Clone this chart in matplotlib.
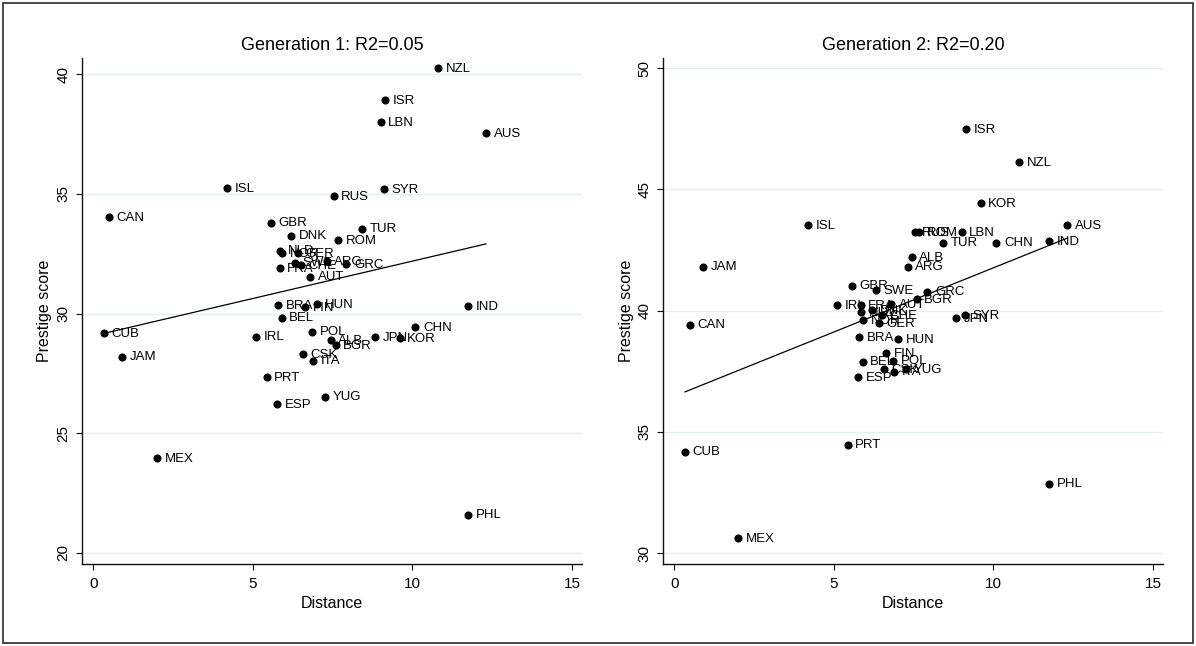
import matplotlib
matplotlib.use('Agg')
import matplotlib.pyplot as plt
import numpy as np
from matplotlib.patches import Rectangle

plt.rcParams['font.family'] = ['Liberation Sans', 'DejaVu Sans']

countries = ["NZL", "ISR", "LBN", "AUS", "ISL", "RUS", "SYR", "CAN", "GBR", "DNK",
             "TUR", "ROM", "NLD", "NOR", "GER", "SWE", "CHE", "ARG", "GRC", "FRA",
             "AUT", "BRA", "HUN", "FIN", "BEL", "IND", "CUB", "POL", "CHN", "IRL",
             "ALB", "JPN", "KOR", "JAM", "CSK", "BGR", "ITA", "PRT", "YUG", "ESP",
             "MEX", "PHL"]

distance = [10.81, 9.13, 9.00, 12.30, 4.20, 7.53, 9.10, 0.50, 5.56, 6.20,
            8.42, 7.66, 5.86, 5.92, 6.41, 6.32, 6.50, 7.31, 7.93, 5.84,
            6.80, 5.80, 7.01, 6.63, 5.90, 11.75, 0.34, 6.86, 10.09, 5.11,
            7.44, 8.82, 9.60, 0.91, 6.57, 7.59, 6.89, 5.43, 7.26, 5.77,
            2.01, 11.75]

prestige_gen1 = [40.25, 38.91, 38.00, 37.54, 35.24, 34.91, 35.20, 34.03, 33.79, 33.25,
                 33.54, 33.07, 32.62, 32.51, 32.51, 32.12, 32.03, 32.20, 32.05, 31.89,
                 31.54, 30.36, 30.40, 30.26, 29.83, 30.30, 29.19, 29.24, 29.42, 29.03,
                 28.89, 29.00, 28.96, 28.20, 28.31, 28.68, 28.03, 27.33, 26.53, 26.22,
                 23.97, 21.60]

prestige_gen2 = [46.13, 47.49, 43.25, 43.54, 43.54, 43.25, 39.82, 39.42, 41.03, 40.03,
                 42.80, 43.25, 39.93, 39.62, 39.48, 40.85, 39.82, 41.81, 40.78, 40.24,
                 40.26, 38.90, 38.82, 38.24, 37.90, 42.87, 34.18, 37.94, 42.80, 40.24,
                 42.22, 39.69, 44.44, 41.81, 37.58, 40.47, 37.48, 34.47, 37.59, 37.25,
                 30.63, 32.86]

titles = ["Generation 1: R2=0.05", "Generation 2: R2=0.20"]
xticks = [0, 5, 10, 15]
yticks_gen1 = [20, 25, 30, 35, 40]
yticks_gen2 = [30, 35, 40, 45, 50]
xlabel = "Distance"
ylabel = "Prestige score"

W, H = 1196, 646
fig = plt.figure(figsize=(W / 100, H / 100), dpi=100)

panels = [
    dict(left=82, yvals=prestige_gen1, yticks=yticks_gen1, ylim=(19.54, 40.67), title=titles[0]),
    dict(left=663, yvals=prestige_gen2, yticks=yticks_gen2, ylim=(29.55, 50.42), title=titles[1]),
]
top_px, bottom_px, width_px = 58, 564, 500

x = np.array(distance)
for p in panels:
    ax = fig.add_axes([p['left'] / W, 1 - bottom_px / H, width_px / W, (bottom_px - top_px) / H])
    y = np.array(p['yvals'])
    ax.set_xlim(-0.35, 15.31)
    ax.set_ylim(*p['ylim'])
    for s in ['top', 'right']:
        ax.spines[s].set_visible(False)
    for s in ['left', 'bottom']:
        ax.spines[s].set_linewidth(1.0)
        ax.spines[s].set_color('#111111')
    ax.set_xticks(xticks)
    ax.set_yticks(p['yticks'])
    ax.set_yticklabels([str(v) for v in p['yticks']], rotation=90, va='center')
    ax.tick_params(axis='both', direction='out', length=4.5, width=0.8, labelsize=11, color='#111111')
    ax.tick_params(axis='x', pad=5)
    ax.tick_params(axis='y', pad=4)
    ax.grid(axis='y', color='#e6eef0', linewidth=1.0, zorder=0)
    ax.set_axisbelow(True)

    ax.scatter(x, y, s=34, color='black', zorder=3, linewidths=0)
    for name, xi, yi in zip(countries, x, y):
        ax.annotate(name, (xi, yi), xytext=(5.5, -0.5), textcoords='offset points',
                    ha='left', va='center', fontsize=9.5, zorder=4)
    b, a = np.polyfit(x, y, 1)
    xs = np.array([x.min(), x.max()])
    ax.plot(xs, a + b * xs, color='black', linewidth=0.9, zorder=2)

    cx = (p['left'] + width_px / 2) / W
    fig.text(cx, 1 - 45 / H, p['title'], ha='center', va='center', fontsize=13)
    fig.text(cx, 1 - 603 / H, xlabel, ha='center', va='center', fontsize=11.5)
    fig.text((p['left'] - 37) / W, 1 - 311 / H, ylabel, ha='center', va='center',
             rotation=90, fontsize=11.5)

fig.patches.append(Rectangle((3 / W, 3 / H), (W - 6) / W, (H - 6) / H, transform=fig.transFigure,
                             fill=False, edgecolor='#3a3a3a', linewidth=1.3))

fig.savefig('out.png', dpi=100)
